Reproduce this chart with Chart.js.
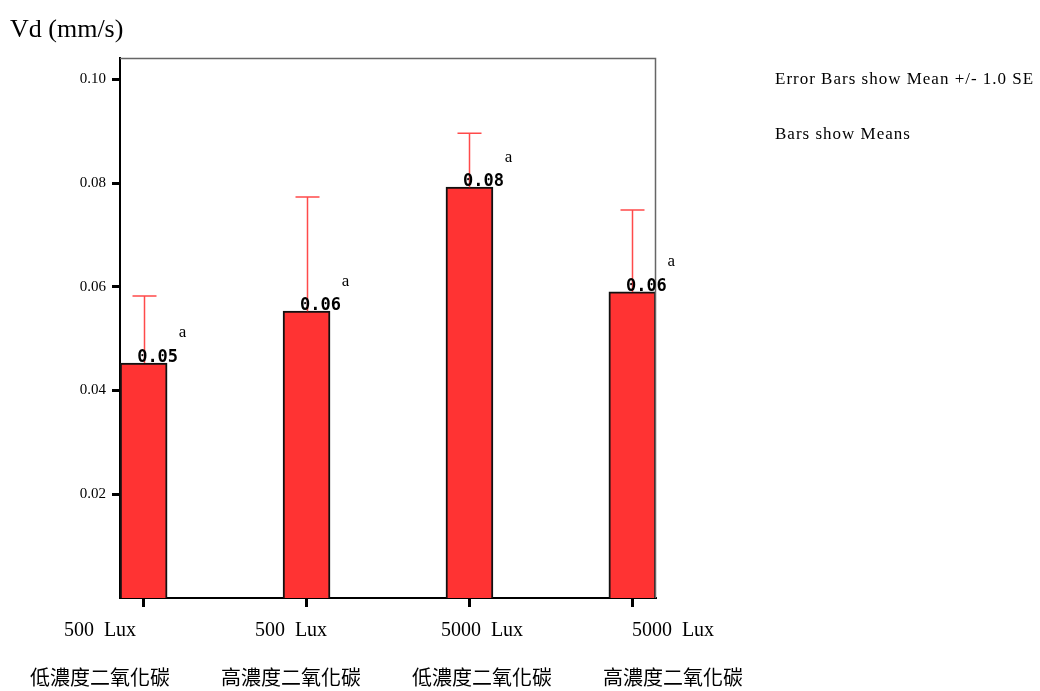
<!DOCTYPE html>
<html>
<head>
<meta charset="utf-8">
<script src="https://cdn.jsdelivr.net/npm/chart.js@4.4.0/dist/chart.umd.min.js"></script>
<style>
html,body{margin:0;padding:0;background:#fff;overflow:hidden;}
#wrap{width:1040px;height:691px;position:relative;}
</style>
</head>
<body>
<div id="wrap"><canvas id="c"></canvas></div>
<script>
const lightLevels = ['500  Lux', '500  Lux', '5000  Lux', '5000  Lux'];
const co2Levels = ['低濃度二氧化碳', '高濃度二氧化碳', '低濃度二氧化碳', '高濃度二氧化碳'];
const means = [0.0453, 0.0553, 0.0792, 0.0590];
const stdErrors = [0.0129, 0.0220, 0.0104, 0.0158];
const valueLabels = ['0.05', '0.06', '0.08', '0.06'];
const groupLetters = ['a', 'a', 'a', 'a'];
const yTickValues = [0.02, 0.04, 0.06, 0.08, 0.10];
const yTickLabels = ['0.02', '0.04', '0.06', '0.08', '0.10'];
const yTitle = 'Vd (mm/s)';
const notes = ['Error Bars show Mean +/- 1.0 SE', 'Bars show Means'];

const points = means.map((m, i) => ({x: i, y: m}));
const catIdx = means.map((m, i) => i);

const decorPlugin = {
  id: 'decor',
  afterDatasetsDraw(chart) {
    const ctx = chart.ctx;
    const area = chart.chartArea;
    const ys = chart.scales.y;
    const meta = chart.getDatasetMeta(0);
    ctx.save();
    // frame top/right
    ctx.strokeStyle = '#666';
    ctx.lineWidth = 1.5;
    ctx.beginPath();
    ctx.moveTo(area.left, area.top + 0.5);
    ctx.lineTo(area.right - 0.5, area.top + 0.5);
    ctx.lineTo(area.right - 0.5, area.bottom);
    ctx.stroke();
    // error bars
    ctx.strokeStyle = '#ff4a4a';
    ctx.lineWidth = 1.5;
    meta.data.forEach((bar, i) => {
      const yTop = ys.getPixelForValue(means[i] + stdErrors[i]);
      const x = Math.round(bar.x) + 0.5;
      ctx.beginPath();
      ctx.moveTo(x, bar.y);
      ctx.lineTo(x, yTop);
      ctx.moveTo(x - 12, yTop);
      ctx.lineTo(x + 12, yTop);
      ctx.stroke();
    });
    // value labels and letters
    meta.data.forEach((bar, i) => {
      ctx.fillStyle = '#000';
      ctx.font = 'bold 17px "DejaVu Sans Mono"';
      ctx.textAlign = 'center';
      ctx.textBaseline = 'alphabetic';
      ctx.fillText(valueLabels[i], bar.x + 14, bar.y - 1);
      ctx.font = '17px "Liberation Serif"';
      ctx.textBaseline = 'middle';
      ctx.fillText(groupLetters[i], bar.x + 39, bar.y - 30);
    });
    // title
    ctx.textAlign = 'left';
    ctx.textBaseline = 'alphabetic';
    ctx.font = '26px "Liberation Serif"';
    ctx.fillText(yTitle, 10, 37);
    // notes
    ctx.font = '17px "Liberation Serif"';
    try { ctx.letterSpacing = '1px'; } catch (e) {}
    ctx.textBaseline = 'middle';
    ctx.fillText(notes[0], 775, 80);
    ctx.fillText(notes[1], 775, 135);
    ctx.restore();
  }
};

new Chart(document.getElementById('c'), {
  type: 'bar',
  data: {
    datasets: [{
      data: points,
      backgroundColor: '#ff3333',
      borderColor: '#111',
      borderWidth: 2,
      borderSkipped: 'bottom',
      barThickness: 47,
      xAxisID: 'x',
      yAxisID: 'y'
    }]
  },
  options: {
    responsive: true,
    maintainAspectRatio: false,
    animation: false,
    layout: {padding: {left: 0, top: 58, right: 384, bottom: 0}},
    plugins: {legend: {display: false}, tooltip: {enabled: false}, title: {display: false}},
    scales: {
      x: {
        type: 'linear',
        position: 'bottom',
        weight: 0,
        offset: false,
        min: -0.145,
        max: 3.145,
        afterBuildTicks: (scale) => { scale.ticks = catIdx.map(v => ({value: v})); },
        afterFit: (scale) => { scale.height = 5; },
        grid: {drawOnChartArea: false, drawTicks: true, offset: false, tickLength: 9, tickWidth: 3, tickColor: '#000'},
        border: {display: true, color: '#000', width: 2},
        ticks: {display: false}
      },
      x2: {
        type: 'linear',
        position: 'bottom',
        weight: 1,
        offset: false,
        min: 0.1047,
        max: 2.911,
        afterBuildTicks: (scale) => { scale.ticks = catIdx.map(v => ({value: v})); },
        afterFit: (scale) => { scale.height = 88; },
        grid: {display: false, drawTicks: false, offset: false},
        border: {display: false},
        ticks: {
          padding: 3,
          maxRotation: 0,
          autoSkip: false,
          color: '#000',
          font: {family: '"Liberation Serif", "Noto Sans CJK TC"', size: 20, lineHeight: 2.45},
          callback: (v) => [lightLevels[v], co2Levels[v]]
        }
      },
      y: {
        min: 0,
        max: 0.1041,
        afterBuildTicks: (scale) => { scale.ticks = yTickValues.map(v => ({value: v})); },
        afterFit: (scale) => { scale.width = 120; },
        grid: {drawOnChartArea: false, drawTicks: true, tickLength: 8, tickWidth: 3, tickColor: '#000'},
        border: {display: true, color: '#000', width: 2},
        ticks: {
          padding: 6,
          color: '#000',
          font: {family: '"Liberation Serif"', size: 15},
          callback: (v) => yTickLabels[yTickValues.indexOf(v)]
        }
      }
    }
  },
  plugins: [decorPlugin]
});
</script>
</body>
</html>
